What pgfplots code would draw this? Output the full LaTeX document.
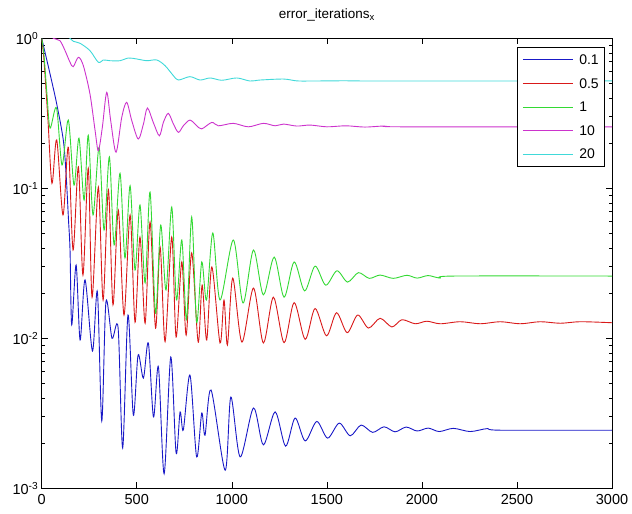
\documentclass[border=0pt]{standalone}
\usepackage{fontspec}
\setmainfont{Liberation Sans}
\usepackage{pgfplots}
\pgfplotsset{compat=1.18}

\definecolor{cB}{rgb}{0.10,0.10,0.78}
\definecolor{cR}{rgb}{0.85,0.10,0.10}
\definecolor{cG}{rgb}{0.20,0.85,0.20}
\definecolor{cM}{rgb}{0.80,0.20,0.80}
\definecolor{cC}{rgb}{0.25,0.85,0.85}

\begin{document}
\begin{tikzpicture}
\begin{axis}[
  width=570.3pt, height=450pt, scale only axis,
  xmin=0, xmax=3000, ymin=1e-3, ymax=1, ymode=log,
  xtick={0,500,1000,1500,2000,2500,3000},
  xticklabels={0,500,1000,1500,2000,2500,3000},
  ytick={1e-3,1e-2,1e-1,1},
  yticklabels={10\textsuperscript{-3},10\textsuperscript{-2},10\textsuperscript{-1},10\textsuperscript{0}},
  minor ytick={2e-3,3e-3,4e-3,5e-3,6e-3,7e-3,8e-3,9e-3,
               2e-2,3e-2,4e-2,5e-2,6e-2,7e-2,8e-2,9e-2,
               2e-1,3e-1,4e-1,5e-1,6e-1,7e-1,8e-1,9e-1},
  tick align=inside, tick pos=both,
  major tick length=6pt, minor tick length=3.5pt,
  every tick/.style={black, line width=0.6pt},
  axis line style={line width=0.8pt},
  tick label style={font=\fontsize{14.5}{16}\selectfont},
  xticklabel style={yshift=-3pt},
  title={error\_iterations\textsubscript{x}},
  title style={font=\fontsize{13.5}{15}\selectfont, at={(0.5,1)}, anchor=base, yshift=14pt, inner sep=0pt},
  legend style={at={(0.988,0.981)}, anchor=north east, draw=black, line width=0.8pt,
    font=\fontsize{14}{16}\selectfont, inner xsep=5pt, inner ysep=7pt, row sep=12pt,
    nodes={inner sep=1pt, text height=9.5pt, text depth=0pt}},
  legend cell align=left,
  legend image code/.code={\draw[#1, line width=1pt] (0pt,0pt) -- (50pt,0pt);},
  every axis plot/.append style={line width=0.9pt, smooth, tension=0.5},
]
% 0.1
\addplot[cB] coordinates {
(0,1.0) (17,0.81) (44,0.578) (79,0.365) (114,0.208) (129,0.12) (141,0.0615)
(149,0.0388) (158,0.0123) (181,0.0308) (202,0.00975) (228,0.0245) (267,0.00823)
(293,0.0204) (316,0.00281) (338,0.0175) (370,0.0100) (402,0.0117) (426,0.00186)
(454,0.0143) (482,0.00308) (507,0.00774) (535,0.00543) (561,0.00931) (588,0.00299)
(614,0.00644) (644,0.00125) (679,0.0075) (707,0.00172) (728,0.00323) (745,0.00245)
(780,0.00569) (815,0.00162) (842,0.00318) (859,0.00226) (891,0.00452) (965,0.00132)
(995,0.00406) (1044,0.00162) (1114,0.00343) (1166,0.00195) (1228,0.00323)
(1283,0.00191) (1333,0.00294) (1386,0.00207) (1447,0.00279) (1504,0.00216)
(1565,0.00272) (1623,0.00224) (1680,0.00264) (1741,0.00236) (1801,0.00257)
(1859,0.00238) (1917,0.00256) (1975,0.00241) (2033,0.00252) (2091,0.00239)
(2165,0.00251) (2254,0.00239) (2343,0.0025) (2412,0.00244) (3000,0.00244)
};
\addlegendentry{\hspace*{5pt}0.1}
% 0.5
\addplot[cR] coordinates {
(0,1.0) (12,0.716) (33,0.285) (54,0.108) (79,0.210) (112,0.0664) (140,0.188)
(165,0.0388) (193,0.139) (217,0.0264) (245,0.136) (265,0.0188) (298,0.102)
(323,0.018) (351,0.0975) (375,0.0167) (403,0.0716) (433,0.0143) (465,0.0664)
(491,0.0128) (517,0.0473) (544,0.0126) (570,0.0596) (599,0.0117) (623,0.0406)
(649,0.0095) (684,0.0473) (707,0.0102) (737,0.0323) (760,0.0105) (789,0.0371)
(823,0.00944) (844,0.0226) (868,0.00975) (895,0.0299) (938,0.00931) (959,0.018)
(977,0.00902) (1005,0.0252) (1053,0.00944) (1114,0.0216) (1166,0.00931)
(1219,0.0188) (1275,0.00935) (1328,0.0173) (1386,0.00984) (1438,0.0158)
(1498,0.0104) (1551,0.0148) (1607,0.0109) (1662,0.0143) (1719,0.0117)
(1780,0.0136) (1842,0.0119) (1895,0.0133) (1965,0.0125) (2026,0.0130)
(2096,0.0125) (2202,0.0129) (2307,0.0125) (2412,0.0129) (2517,0.0125)
(2622,0.0129) (2728,0.0126) (2833,0.0129) (3000,0.0127)
};
\addlegendentry{\hspace*{5pt}0.5}
% 1
\addplot[cG] coordinates {
(0,1.0) (12,0.774) (28,0.419) (44,0.252) (78,0.343) (107,0.143) (140,0.285)
(170,0.105) (196,0.216) (223,0.0835) (245,0.226) (270,0.0664) (302,0.188)
(328,0.0527) (356,0.162) (381,0.0419) (412,0.126) (438,0.0343) (465,0.104)
(491,0.0285) (517,0.0774) (544,0.0234) (570,0.0944) (599,0.0147) (626,0.0569)
(654,0.021) (684,0.075) (709,0.018) (737,0.0452) (762,0.0133) (789,0.0644)
(815,0.0128) (842,0.0323) (867,0.018) (900,0.0504) (938,0.018) (1008,0.0452)
(1059,0.0172) (1114,0.0388) (1166,0.0195) (1223,0.0348) (1275,0.0188)
(1328,0.0323) (1383,0.0207) (1438,0.0303) (1494,0.0226) (1553,0.0282)
(1609,0.0237) (1666,0.0274) (1723,0.0251) (1780,0.0264) (1849,0.0251)
(1921,0.0263) (1975,0.0252) (2033,0.0262) (2096,0.0252) (2165,0.026) (3000,0.026)
};
\addlegendentry{\hspace*{5pt}1}
% 10
\addplot[cM] coordinates {
(0,1.4) (40,1.1) (61,1.0) (96,0.964) (123,0.827) (149,0.692) (166,0.647)
(193,0.747) (219,0.657) (254,0.425) (281,0.242) (298,0.178) (319,0.255)
(342,0.436) (363,0.282) (391,0.174) (421,0.297) (447,0.374) (474,0.282)
(508,0.213) (535,0.268) (556,0.343) (587,0.275) (619,0.224) (640,0.275)
(666,0.316) (693,0.268) (719,0.236) (745,0.261) (780,0.285) (816,0.261)
(842,0.249) (895,0.275) (929,0.261) (1008,0.271) (1087,0.257) (1166,0.271)
(1228,0.261) (1272,0.268) (1342,0.260) (1412,0.264) (1500,0.257) (1600,0.261)
(1700,0.256) (1800,0.260) (1900,0.257) (3000,0.257)
};
\addlegendentry{\hspace*{5pt}10}
% 20
\addplot[cC] coordinates {
(0,1.3) (60,1.2) (100,1.1) (149,1.0) (166,0.955) (202,0.926) (254,0.827)
(298,0.692) (324,0.717) (359,0.709) (412,0.709) (456,0.739) (500,0.728)
(553,0.709) (605,0.717) (649,0.657) (693,0.563) (719,0.527) (780,0.555)
(833,0.527) (886,0.544) (947,0.525) (1026,0.544) (1096,0.519) (1149,0.527)
(1272,0.535) (1342,0.520) (1412,0.519) (1600,0.521) (1800,0.519) (3000,0.52)
};
\addlegendentry{\hspace*{5pt}20}
\end{axis}
\pgfresetboundingbox
\path[use as bounding box] ([xshift=-41.7pt,yshift=-24.7pt]current axis.south west)
  rectangle ([xshift=20pt,yshift=38.3pt]current axis.north east);
\end{tikzpicture}
\end{document}
